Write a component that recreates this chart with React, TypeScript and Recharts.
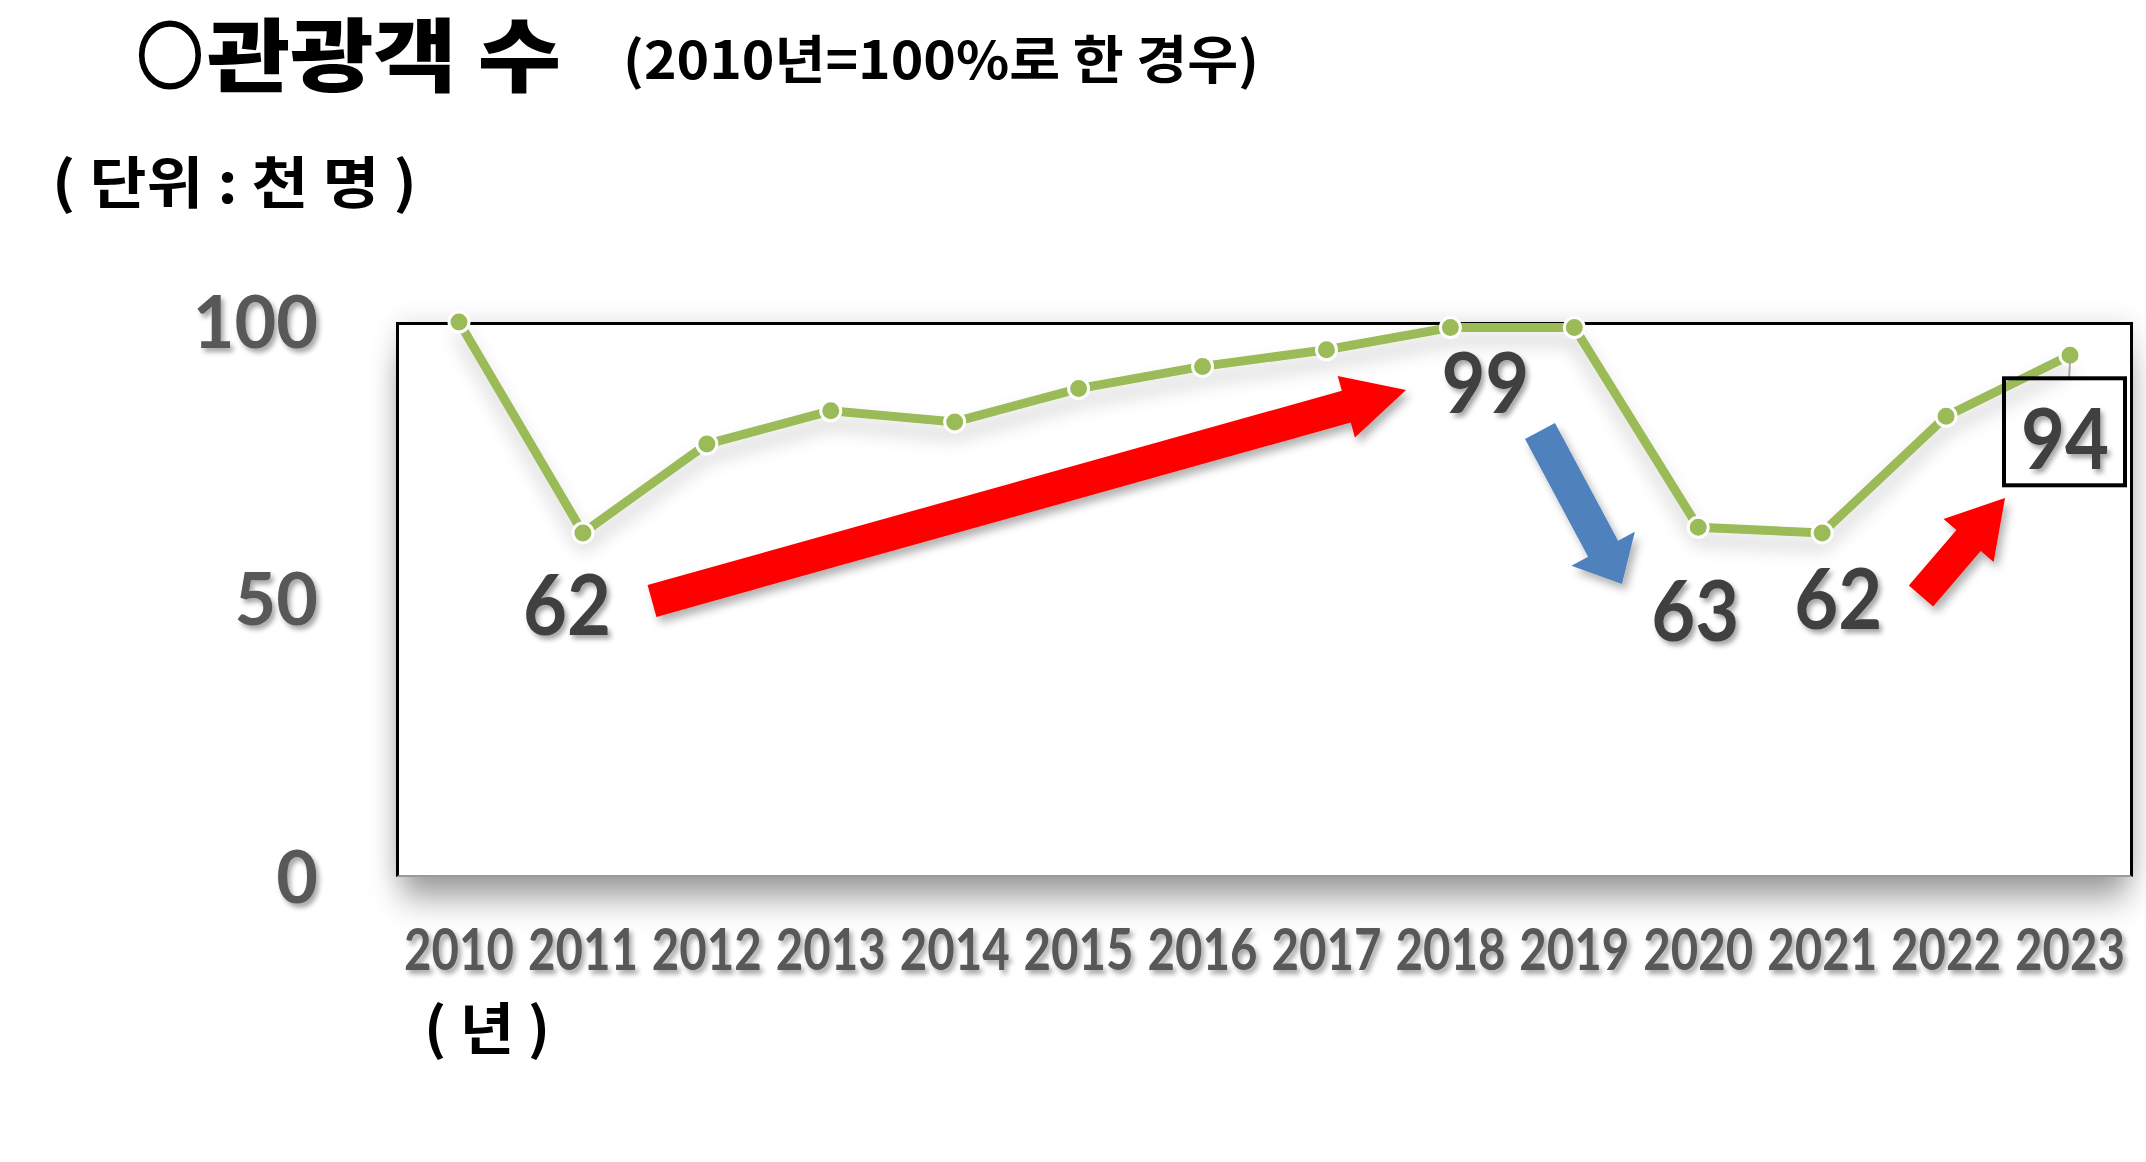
import { LineChart, Line, XAxis, YAxis, LabelList } from "recharts";

const years = ["2010", "2011", "2012", "2013", "2014", "2015", "2016", "2017", "2018", "2019", "2020", "2021", "2022", "2023"];
const visitors = [100, 62, 78, 84, 82, 88, 92, 95, 99, 99, 63, 62, 83, 94];
const yTicks = [0, 50, 100];
const calloutYears = ["2011", "2018", "2020", "2021", "2023"];
const boxedYear = "2023";

const data = years.map((year, i) => ({ year, value: visitors[i] }));

// where each callout sits relative to its point
const LABEL_OFFSET: Record<string, [number, number]> = {
  "2011": [-16, 72],
  "2018": [35, 55],
  "2020": [-3, 83],
  "2021": [16, 66],
  "2023": [-5, 83],
};

const GREEN = "#9BBB59";
const NUM_FONT = 'Lato, "Open Sans", sans-serif';
const KR_FONT = '"Noto Sans CJK KR", sans-serif';

const W = 2146;
const H = 1162;
const PLOT = { left: 396, top: 322, right: 2131, bottom: 877 };

function arrowPoints(x1: number, y1: number, x2: number, y2: number, w: number, hw: number, hl: number) {
  const len = Math.hypot(x2 - x1, y2 - y1);
  const ux = (x2 - x1) / len;
  const uy = (y2 - y1) / len;
  const nx = -uy;
  const ny = ux;
  const bx = x2 - ux * hl;
  const by = y2 - uy * hl;
  const pts = [
    [x1 + (nx * w) / 2, y1 + (ny * w) / 2],
    [bx + (nx * w) / 2, by + (ny * w) / 2],
    [bx + (nx * hw) / 2, by + (ny * hw) / 2],
    [x2, y2],
    [bx - (nx * hw) / 2, by - (ny * hw) / 2],
    [bx - (nx * w) / 2, by - (ny * w) / 2],
    [x1 - (nx * w) / 2, y1 - (ny * w) / 2],
  ];
  return pts.map((p) => p.join(",")).join(" ");
}

const YTick = (props: any) => (
  <text
    x={props.x}
    y={props.y}
    dy="0.36em"
    textAnchor="end"
    fontFamily={NUM_FONT}
    fontWeight={700}
    fontSize={72}
    fill="#595959"
    filter="url(#txtShadow)"
  >
    {props.payload.value}
  </text>
);

const XTick = (props: any) => (
  <text
    x={props.x}
    y={props.y + 93}
    textAnchor="middle"
    fontFamily={NUM_FONT}
    fontWeight={700}
    fontSize={58}
    fill="#595959"
    textLength={110}
    lengthAdjust="spacingAndGlyphs"
    filter="url(#txtShadow)"
  >
    {props.payload.value}
  </text>
);

const Callout = (props: any) => {
  const { x, y, value, index } = props;
  const year = years[index];
  if (!calloutYears.includes(year)) return null;
  const [dx, dy] = LABEL_OFFSET[year];
  return (
    <g>
      {year === boxedYear && (
        <>
          <line x1={x} y1={y + 6} x2={x - 1} y2={y + 23} stroke="#a6a6a6" strokeWidth={2} />
          <rect x={x - 66} y={y + 23} width={121} height={107} fill="none" stroke="#000" strokeWidth={4} />
        </>
      )}
      <text
        x={x + dx}
        y={y + dy}
        dy="0.36em"
        textAnchor="middle"
        fontFamily={NUM_FONT}
        fontWeight={700}
        fontSize={84}
        fill="#404040"
        textLength={88}
        lengthAdjust="spacingAndGlyphs"
        filter="url(#txtShadow)"
      >
        {value}
      </text>
    </g>
  );
};

const Dot = (props: any) => (
  <circle cx={props.cx} cy={props.cy} r={10} fill={GREEN} stroke="#fff" strokeWidth={3} />
);

export default function App() {
  return (
    <div style={{ position: "absolute", left: 0, top: 0, width: W, height: H, background: "#fff", overflow: "hidden" }}>
      <style>{`.recharts-line-curve { filter: url(#lineShadow); }`}</style>
      <svg width={0} height={0} style={{ position: "absolute" }}>
        <defs>
          <filter id="txtShadow" x="-20%" y="-20%" width="150%" height="150%">
            <feDropShadow dx={3} dy={4} stdDeviation={2.5} floodColor="#000" floodOpacity={0.35} />
          </filter>
          <filter id="lineShadow" x="-10%" y="-30%" width="120%" height="170%">
            <feDropShadow dx={0} dy={12} stdDeviation={9} floodColor="#000" floodOpacity={0.2} />
          </filter>
          <filter id="arrowShadow" x="-20%" y="-20%" width="150%" height="150%">
            <feDropShadow dx={4} dy={6} stdDeviation={4} floodColor="#000" floodOpacity={0.3} />
          </filter>
        </defs>
      </svg>

      {/* plot frame */}
      <div
        style={{
          position: "absolute",
          left: PLOT.left,
          top: PLOT.top,
          width: PLOT.right - PLOT.left + 2,
          height: PLOT.bottom - PLOT.top,
          boxSizing: "border-box",
          borderTop: "3px solid #000",
          borderLeft: "3px solid #000",
          borderRight: "3px solid #000",
          borderBottom: "2px solid #9a9a9a",
          background: "#fff",
          boxShadow: "0 28px 30px -6px rgba(0,0,0,0.35), 0 0 24px rgba(0,0,0,0.12)",
        }}
      />

      <div style={{ position: "absolute", left: 0, top: 0 }}>
        <LineChart
          width={W}
          height={H}
          data={data}
          margin={{ top: PLOT.top, right: W - PLOT.right, bottom: H - PLOT.bottom - 100, left: 0 }}
        >
          <XAxis
            dataKey="year"
            height={100}
            axisLine={false}
            tickLine={false}
            tickSize={0}
            tickMargin={0}
            interval={0}
            padding={{ left: 63, right: 61 }}
            tick={<XTick />}
          />
          <YAxis
            width={PLOT.left}
            domain={[0, 100]}
            ticks={yTicks}
            axisLine={false}
            tickLine={false}
            tickSize={0}
            tickMargin={78}
            tick={<YTick />}
          />
          <Line
            type="linear"
            dataKey="value"
            stroke={GREEN}
            strokeWidth={9}
            style={{ strokeWidth: 9 }}
            dot={<Dot />}
            activeDot={false}
            isAnimationActive={false}
          >
            <LabelList dataKey="value" content={<Callout />} />
          </Line>
        </LineChart>
      </div>

      {/* titles and arrows */}
      <svg width={W} height={H} style={{ position: "absolute", left: 0, top: 0, pointerEvents: "none" }}>
        <text x={137} y={82} fontFamily={KR_FONT} fontWeight={700} fontSize={72} textLength={66} lengthAdjust="spacingAndGlyphs" fill="#000" stroke="#000" strokeWidth={3}>
          ○
        </text>
        <text x={207} y={85} fontFamily={KR_FONT} fontWeight={900} fontSize={80} textLength={354} lengthAdjust="spacingAndGlyphs" fill="#000">
          관광객 수
        </text>
        <text x={623} y={79} fontFamily={KR_FONT} fontWeight={700} fontSize={52} textLength={636} lengthAdjust="spacingAndGlyphs" fill="#000">
          (2010년=100%로 한 경우)
        </text>
        <text x={52} y={203} fontFamily={KR_FONT} fontWeight={700} fontSize={56} textLength={365} lengthAdjust="spacingAndGlyphs" fill="#000">
          ( 단위 : 천 명 )
        </text>
        <text x={424} y={1049} fontFamily={KR_FONT} fontWeight={700} fontSize={56} textLength={126} lengthAdjust="spacingAndGlyphs" fill="#000">
          ( 년 )
        </text>

        <g filter="url(#arrowShadow)">
          <polygon points={arrowPoints(652, 601, 1406, 390, 33, 64, 62)} fill="#FF0000" />
          <polygon points={arrowPoints(1540, 431, 1622, 584, 34, 72, 40)} fill="#4F81BD" />
          <polygon points={arrowPoints(1921, 596, 2005, 498, 32, 66, 56)} fill="#FF0000" />
        </g>
      </svg>
    </div>
  );
}
